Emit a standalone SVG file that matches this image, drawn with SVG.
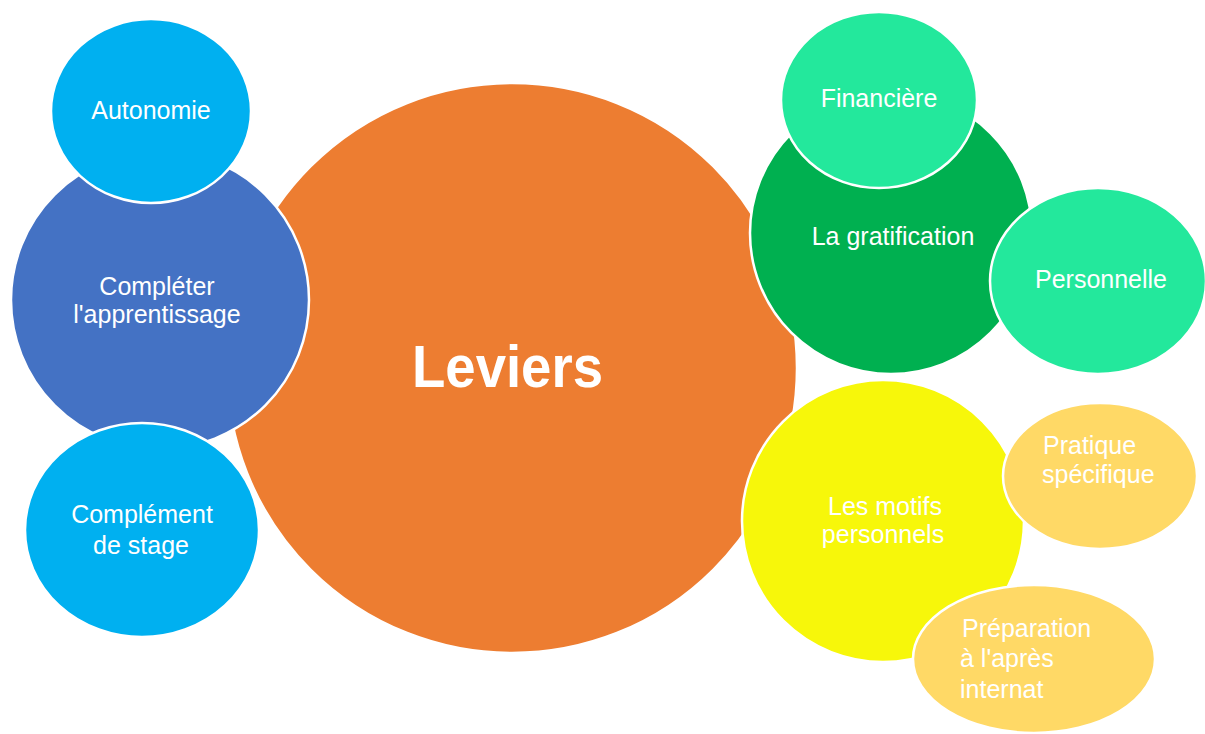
<svg xmlns="http://www.w3.org/2000/svg" width="1205" height="734" viewBox="0 0 1205 734">
<style>
.b{stroke:#ffffff;stroke-width:2.5}
.t{font-family:"Liberation Sans",Arial,sans-serif;font-size:25px;fill:#ffffff;text-anchor:middle}
.l{text-anchor:start}
.big{font-family:"Liberation Sans",Arial,sans-serif;font-size:60px;font-weight:bold;fill:#ffffff}
</style>
<rect width="1205" height="734" fill="#ffffff"/>
<g id="leviers">
<circle class="b" cx="512" cy="368" r="285" fill="#ED7D31"/>
<text class="big" x="412" y="387" textLength="191" lengthAdjust="spacingAndGlyphs">Leviers</text>
</g>
<g id="completer">
<ellipse class="b" cx="160" cy="300" rx="149" ry="149" fill="#4472C4"/>
<text class="t" x="157" y="295">Compléter</text>
<text class="t" x="157" y="323">l'apprentissage</text>
</g>
<g id="autonomie">
<ellipse class="b" cx="151" cy="111" rx="100" ry="92" fill="#00B0F0"/>
<text class="t" x="151" y="119">Autonomie</text>
</g>
<g id="complement">
<ellipse class="b" cx="142" cy="530" rx="117" ry="107" fill="#00B0F0"/>
<text class="t" x="142" y="523">Complément</text>
<text class="t" x="141" y="554">de stage</text>
</g>
<g id="gratification">
<circle class="b" cx="891" cy="233" r="141" fill="#00B050"/>
<text class="t" x="893" y="245">La gratification</text>
</g>
<g id="financiere">
<ellipse class="b" cx="879" cy="100" rx="98" ry="88" fill="#23E89C"/>
<text class="t" x="879" y="107">Financière</text>
</g>
<g id="personnelle">
<ellipse class="b" cx="1098" cy="281" rx="108" ry="93" fill="#23E89C"/>
<text class="t" x="1101" y="288">Personnelle</text>
</g>
<g id="motifs">
<circle class="b" cx="883" cy="521" r="141" fill="#F7F70A"/>
<text class="t" x="885" y="515">Les motifs</text>
<text class="t" x="883" y="543">personnels</text>
</g>
<g id="pratique">
<ellipse class="b" cx="1100" cy="476" rx="97" ry="73" fill="#FFD966"/>
<text class="t l" x="1043" y="454">Pratique</text>
<text class="t l" x="1042" y="483">spécifique</text>
</g>
<g id="preparation">
<ellipse class="b" cx="1034" cy="659" rx="121" ry="74" fill="#FFD966"/>
<text class="t l" x="962" y="637">Préparation</text>
<text class="t l" x="960" y="667">à l'après</text>
<text class="t l" x="960" y="698">internat</text>
</g>
<g id="connectors"/>
</svg>
